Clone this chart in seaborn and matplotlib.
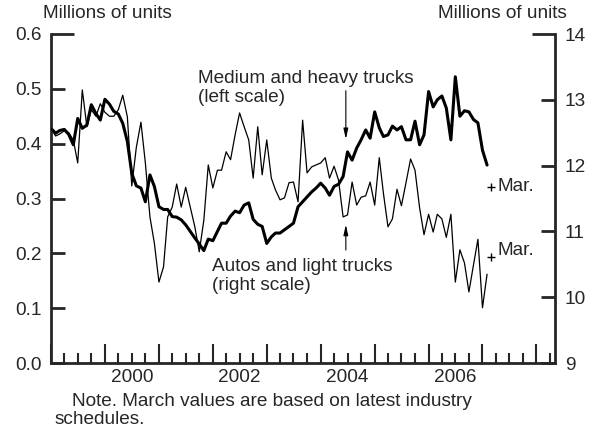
import matplotlib
matplotlib.use('Agg')
import matplotlib.pyplot as plt
import matplotlib.dates as mdates
from matplotlib.ticker import FixedLocator, FuncFormatter
import seaborn as sns
import numpy as np
import pandas as pd

# monthly data, Jan 1999 - Feb 2007 (annual rates, millions of units)
months = pd.date_range('1999-01-01', periods=98, freq='MS')

heavy_trucks = [0.428, 0.419, 0.424, 0.426, 0.417, 0.398, 0.446, 0.428, 0.434, 0.471, 0.455, 0.443,
                0.481, 0.472, 0.459, 0.454, 0.437, 0.404, 0.346, 0.323, 0.319, 0.294, 0.343, 0.322,
                0.285, 0.280, 0.280, 0.267, 0.266, 0.261, 0.252, 0.240, 0.228, 0.217, 0.205, 0.226,
                0.223, 0.240, 0.255, 0.255, 0.268, 0.277, 0.274, 0.288, 0.292, 0.262, 0.253, 0.249,
                0.218, 0.230, 0.237, 0.237, 0.243, 0.249, 0.255, 0.285, 0.294, 0.303, 0.312, 0.319,
                0.328, 0.319, 0.306, 0.322, 0.326, 0.340, 0.385, 0.370, 0.392, 0.407, 0.425, 0.410,
                0.458, 0.429, 0.413, 0.416, 0.432, 0.425, 0.431, 0.407, 0.407, 0.441, 0.398, 0.416,
                0.495, 0.467, 0.480, 0.487, 0.465, 0.407, 0.522, 0.450, 0.460, 0.458, 0.444, 0.438,
                0.388, 0.361]

autos_light = [12.57, 12.45, 12.48, 12.53, 12.50, 12.39, 12.04, 13.15, 12.59, 12.85, 12.75, 12.94,
               12.81, 12.75, 12.75, 12.85, 13.07, 12.74, 11.69, 12.28, 12.66, 12.04, 11.22, 10.82,
               10.23, 10.46, 11.22, 11.37, 11.72, 11.37, 11.67, 11.37, 11.07, 10.69, 11.17, 12.01,
               11.66, 11.93, 11.93, 12.21, 12.09, 12.47, 12.80, 12.59, 12.39, 11.81, 12.59, 11.86,
               12.39, 11.81, 11.63, 11.48, 11.51, 11.74, 11.75, 11.45, 12.69, 11.89, 11.98, 12.01,
               12.04, 12.12, 11.81, 11.99, 11.78, 11.22, 11.25, 11.75, 11.40, 11.52, 11.54, 11.75,
               11.40, 12.12, 11.58, 11.07, 11.19, 11.64, 11.39, 11.74, 12.10, 11.93, 11.36, 10.95,
               11.26, 10.99, 11.26, 11.19, 10.91, 11.26, 10.23, 10.72, 10.52, 10.08, 10.49, 10.88,
               9.84, 10.35]

# March 2007 values from industry schedules
march = pd.Timestamp('2007-03-01')
heavy_march = 0.321
autos_march = 10.61

left_ticks = [0.0, 0.1, 0.2, 0.3, 0.4, 0.5, 0.6]
right_ticks = [9, 10, 11, 12, 13, 14]
label_years = [2000, 2002, 2004, 2006]

sns.set_style('white')
plt.rcParams['font.family'] = ['Liberation Sans', 'DejaVu Sans']
plt.rcParams['font.size'] = 13.7

fig = plt.figure(figsize=(5.98, 4.34), dpi=100)
ax = fig.add_axes([51 / 598, 1 - 363 / 434, 504 / 598, 329 / 434])
ax2 = ax.twinx()

sns.lineplot(x=months, y=heavy_trucks, ax=ax, color='black', linewidth=2.2)
sns.lineplot(x=months, y=autos_light, ax=ax2, color='black', linewidth=0.9)
sns.scatterplot(x=[march], y=[heavy_march], ax=ax, marker='+', s=40, color='black', linewidth=1)
sns.scatterplot(x=[march], y=[autos_march], ax=ax2, marker='+', s=40, color='black', linewidth=1)

ax.set_xlim(pd.Timestamp('1999-01-01'), pd.Timestamp('2008-05-06'))
ax.set_ylim(0, 0.6)
ax2.set_ylim(9, 14)

for a in (ax, ax2):
    a.spines['top'].set_visible(False)
    for s in a.spines.values():
        s.set_linewidth(2)
ax2.spines['left'].set_visible(False)
ax2.spines['bottom'].set_visible(False)
ax.spines['right'].set_visible(False)

ax.yaxis.set_major_locator(FixedLocator(left_ticks))
ax.yaxis.set_major_formatter(FuncFormatter(lambda v, p: '%.1f' % v))
ax.tick_params(axis='y', direction='in', length=10, width=2, pad=7, left=True)
ax2.yaxis.set_major_locator(FixedLocator(right_ticks))
ax2.tick_params(axis='y', direction='in', length=10, width=2, pad=7, right=True)
ax.yaxis.get_major_ticks()[-1].tick1line.set_markersize(16.5)
ax2.yaxis.get_major_ticks()[-1].tick2line.set_markersize(16.5)

ax.xaxis.set_major_locator(mdates.YearLocator())
ax.xaxis.set_major_formatter(FuncFormatter(lambda v, p: ''))
ax.xaxis.set_minor_locator(mdates.MonthLocator(bymonth=[4, 7, 10]))


def year_label(v, p):
    d = mdates.num2date(v)
    if d.month == 7 and d.year in label_years:
        return str(d.year)
    return ''


ax.xaxis.set_minor_formatter(FuncFormatter(year_label))
ax.tick_params(axis='x', which='major', direction='in', length=13.5, width=1.5, bottom=True)
ax.tick_params(axis='x', which='minor', direction='in', length=7.2, width=1.5, pad=4, bottom=True)
ax.set_xlabel('')
ax.set_ylabel('')
ax2.set_ylabel('')

# labels and arrows
ax.text(0.2917, 0.836, 'Medium and heavy trucks\n(left scale)', transform=ax.transAxes,
        ha='left', va='center')
ax.text(0.3194, 0.264, 'Autos and light trucks\n(right scale)', transform=ax.transAxes,
        ha='left', va='center')
arrow = dict(arrowstyle='-|>,head_length=0.45,head_width=0.1', color='black', lw=0.8)
ax.annotate('', xy=(0.585, 0.672), xytext=(0.585, 0.836), xycoords='axes fraction',
            arrowprops=arrow)
ax.annotate('', xy=(0.585, 0.429), xytext=(0.585, 0.335), xycoords='axes fraction',
            arrowprops=arrow)
ax.annotate('Mar.', xy=(march, heavy_march), xytext=(4.5, 0), textcoords='offset points',
            ha='left', va='center')
ax2.annotate('Mar.', xy=(march, autos_march), xytext=(4.5, 5), textcoords='offset points',
             ha='left', va='center')

fig.text(43 / 598, 1 - 13 / 434, 'Millions of units', ha='left', va='center')
fig.text(567 / 598, 1 - 13 / 434, 'Millions of units', ha='right', va='center')
fig.text(72 / 598, 1 - 401 / 434, 'Note. March values are based on latest industry', ha='left', va='center')
fig.text(55 / 598, 1 - 420 / 434, 'schedules.', ha='left', va='center')

fig.savefig('out.png', dpi=100)
